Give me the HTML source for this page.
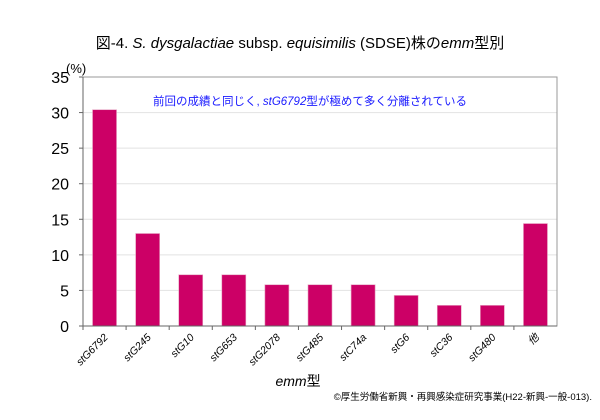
<!DOCTYPE html>
<html><head><meta charset="utf-8"><style>
body{margin:0;background:#fff;font-family:"Liberation Sans","Noto Sans CJK JP",sans-serif}
</style></head><body>
<svg width="600" height="415" xmlns="http://www.w3.org/2000/svg" font-family="Liberation Sans, Noto Sans CJK JP, sans-serif">
<text x="300" y="48" text-anchor="middle" font-size="15">図-4. <tspan font-style="italic">S. dysgalactiae</tspan> subsp. <tspan font-style="italic">equisimilis</tspan> (SDSE)株の<tspan font-style="italic">emm</tspan>型別</text>
<g id="grid"></g>
<rect x="83" y="77" width="474" height="249" fill="none" stroke="#999" stroke-width="1"/>
<g id="bars"></g>
<line x1="83" y1="77" x2="83" y2="326" stroke="#666"/>
<line x1="83" y1="326" x2="557" y2="326" stroke="#666"/>
<g id="yticks"></g><g id="xticks"></g>
<text x="66" y="73" font-size="13">(%)</text>
<text x="310" y="105" text-anchor="middle" font-size="11.5" fill="#1a1aff">前回の成績と同じく, <tspan font-style="italic">stG6792</tspan>型が極めて多く分離されている</text>
<text x="298" y="386" text-anchor="middle" font-size="14"><tspan font-style="italic">emm</tspan>型</text>
<text x="592" y="400" text-anchor="end" font-size="9.5">©厚生労働省新興・再興感染症研究事業(H22-新興-一般-013).</text>
</svg>
<script>
const categories=["stG6792","stG245","stG10","stG653","stG2078","stG485","stC74a","stG6","stC36","stG480","他"];
const values=[30.4,13.0,7.2,7.2,5.8,5.8,5.8,4.3,2.9,2.9,14.4];
const yTicks=[0,5,10,15,20,25,30,35];
const NS="http://www.w3.org/2000/svg";
const L=83,R=557,T=77,B=326,YMAX=35;
const y=v=>B-(v/YMAX)*(B-T);
const bw=(R-L)/categories.length;
const x=i=>L+bw*i;
function mk(t,a,p){const e=document.createElementNS(NS,t);for(const k in a)e.setAttribute(k,a[k]);document.getElementById(p).appendChild(e);return e;}
yTicks.forEach(v=>{
  if(v>0&&v<YMAX){const g=mk("line",{x1:L,x2:R,y1:y(v),y2:y(v),stroke:"#e2e2e2"},"grid");
  
  }
  const tk=mk("line",{x1:L-4,x2:L,y1:y(v),y2:y(v),stroke:"#666"},"yticks");
  
  
  const t=mk("text",{x:L-14,y:y(v)+6,"text-anchor":"end","font-size":"16"},"yticks");
  t.textContent=v;
  
  
});
categories.forEach((c,i)=>{
  const w=24,cx=x(i)+bw/2;
  const r=mk("rect",{x:cx-w/2,y:y(values[i]),width:w,height:B-y(values[i]),fill:"#cc0066",stroke:"#e6a0c0","stroke-width":"0.6"},"bars");
  
  
  const tk=mk("line",{x1:x(i),x2:x(i),y1:B,y2:B+4,stroke:"#666"},"xticks");
  
  
  const t=mk("text",{x:cx+4,y:B+12,"text-anchor":"end","font-size":"10.5","font-style":"italic",transform:`rotate(-45 ${cx+4} ${B+12})`},"xticks");
  t.textContent=c;
  
  
});
</script>
</body></html>
